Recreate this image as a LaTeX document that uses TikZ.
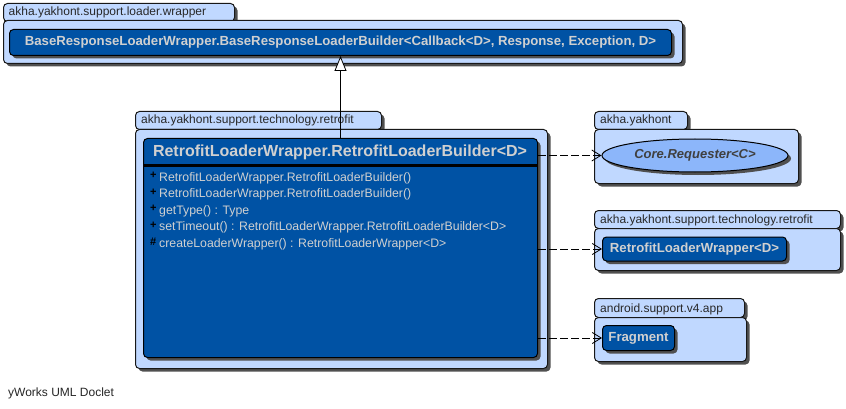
\documentclass[tikz,border=0pt]{standalone}
\usepackage{fontspec}
\setmainfont{Liberation Sans}
\usetikzlibrary{arrows.meta,shapes.geometric,shadows}
\definecolor{pkgfill}{RGB}{192,216,255}
\definecolor{clsfill}{RGB}{0,82,164}
\definecolor{clstext}{RGB}{208,208,208}
\definecolor{ellfill}{RGB}{140,182,250}
\definecolor{shadowc}{RGB}{80,80,80}
\definecolor{edgec}{RGB}{24,24,24}
\definecolor{lbltext}{RGB}{40,40,40}
\definecolor{elltext}{RGB}{64,64,64}
\tikzset{
  shd/.style={drop shadow={shadow xshift=3pt,shadow yshift=-3pt,fill=shadowc,opacity=1}},
  pkgbox/.style={draw=edgec,line width=1pt,fill=pkgfill,rounded corners=4pt,shd,inner sep=0pt,anchor=north west},
  pkglbl/.style={anchor=base west,inner sep=0pt,text=lbltext,font=\fontsize{12}{14}\selectfont},
  clsbox/.style={draw=black,line width=1pt,fill=clsfill,rounded corners=4pt,shd,inner sep=0pt,anchor=north west,text=clstext,font=\bfseries\fontsize{13.2}{15}\selectfont},
  member/.style={anchor=base west,inner sep=0pt,text=clstext,font=\fontsize{12.3}{14}\selectfont},
  dep/.style={draw=black,line width=0.8pt,dash pattern=on 8pt off 3pt,-{Straight Barb[length=9pt,width=11pt]}},
  inh/.style={draw=black,line width=0.8pt,-{Triangle[length=15pt,width=12pt,fill=white]}},
}
\newcommand{\vis}[1]{\makebox[9pt][l]{\textcolor{black}{\raisebox{2pt}{\bfseries\fontsize{11}{11}\selectfont #1}}}}
\begin{document}
\begin{tikzpicture}[x=1pt,y=-1pt]
\useasboundingbox[fill=white] (0,0) rectangle (846,409);

% package 1
\node[pkgbox,minimum width=231pt,minimum height=18pt] (p1tab) at (3,3) {};
\node[pkgbox,minimum width=679pt,minimum height=43pt] (p1) at (3,20) {};
\node[pkglbl] (p1lbl) at (8.5,16) {akha.yakhont.support.loader.wrapper};
\node[clsbox,minimum width=662pt,minimum height=26pt] (base) at (9,29)
  {BaseResponseLoaderWrapper.BaseResponseLoaderBuilder<Callback<D>, Response, Exception, D>};

% package 2
\node[pkgbox,minimum width=246pt,minimum height=18pt] (p2tab) at (135,111) {};
\node[pkgbox,minimum width=412pt,minimum height=239pt] (p2) at (135,129) {};
\node[pkglbl] (p2lbl) at (141,124) {akha.yakhont.support.technology.retrofit};
\node[clsbox,minimum width=394pt,minimum height=219pt] (builder) at (143,138) {};
\draw[black,line width=2pt] (builder.west |- 0,165.5) -- (builder.east |- 0,165.5);
\node[anchor=center,inner sep=0pt,text=clstext,font=\bfseries\fontsize{16}{18}\selectfont] (btitle) at (340,152.5)
  {RetrofitLoaderWrapper.RetrofitLoaderBuilder<D>};
\node[member] (m1) at (150,181) {\vis{+}RetrofitLoaderWrapper.RetrofitLoaderBuilder()};
\node[member] (m2) at (150,197.5) {\vis{+}RetrofitLoaderWrapper.RetrofitLoaderBuilder()};
\node[member] (m3) at (150,214) {\vis{+}getType() : Type};
\node[member] (m4) at (150,230.5) {\vis{+}setTimeout() : RetrofitLoaderWrapper.RetrofitLoaderBuilder<D>};
\node[member] (m5) at (150,247) {\vis{\#}createLoaderWrapper() : RetrofitLoaderWrapper<D>};

% package 3
\node[pkgbox,minimum width=93pt,minimum height=18pt] (p3tab) at (594,111) {};
\node[pkgbox,minimum width=204pt,minimum height=54pt] (p3) at (594,129) {};
\node[pkglbl] (p3lbl) at (600,124) {akha.yakhont};
\node[ellipse,draw=black,line width=1pt,fill=ellfill,shd,minimum width=186pt,minimum height=33pt,inner sep=0pt,
  text=elltext,font=\bfseries\itshape\fontsize{13}{15}\selectfont] (core) at (695,155.5) {Core.Requester<C>};

% package 4
\node[pkgbox,minimum width=246pt,minimum height=18pt] (p4tab) at (594,210) {};
\node[pkgbox,minimum width=246pt,minimum height=42pt] (p4) at (594,228) {};
\node[pkglbl] (p4lbl) at (600,223.5) {akha.yakhont.support.technology.retrofit};
\node[clsbox,minimum width=184pt,minimum height=24pt] (rlw) at (602,236.5) {RetrofitLoaderWrapper<D>};

% package 5
\node[pkgbox,minimum width=150pt,minimum height=19pt] (p5tab) at (594,298) {};
\node[pkgbox,minimum width=152pt,minimum height=44pt] (p5) at (594,317) {};
\node[pkglbl] (p5lbl) at (600,312) {android.support.v4.app};
\node[clsbox,minimum width=72pt,minimum height=25pt] (frag) at (602,325) {Fragment};

% connectors
\draw[inh] (builder.north) -- (base.south);
\draw[dep] (builder.east |- core.west) -- (core.west);
\draw[dep] (builder.east |- rlw.west) -- (rlw.west);
\draw[dep] (builder.east |- frag.west) -- (frag.west);

\node[anchor=base west,inner sep=0pt,text=black!85,font=\fontsize{12}{14}\selectfont] (footer) at (8,396) {yWorks UML Doclet};
\end{tikzpicture}
\end{document}
